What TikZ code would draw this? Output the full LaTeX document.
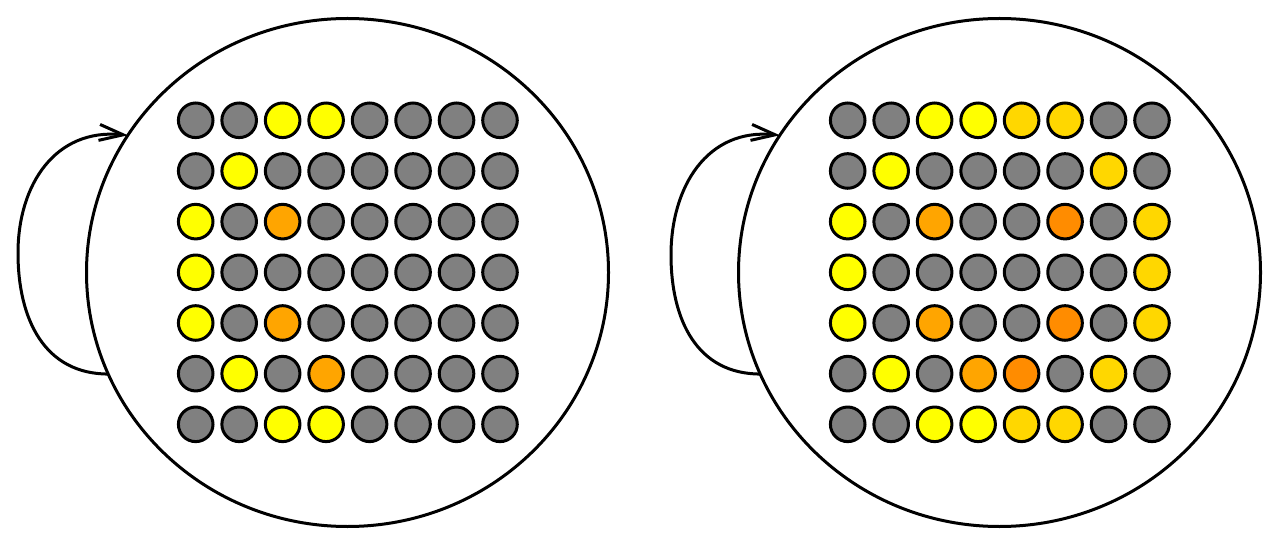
\documentclass[tikz,border=0pt]{standalone}
\usetikzlibrary{arrows.meta,shapes.geometric}
\definecolor{cG}{HTML}{808080}
\definecolor{cY}{HTML}{FFFF00}
\definecolor{cO}{HTML}{FFA500}
\definecolor{cD}{HTML}{FFD700}
\definecolor{cR}{HTML}{FF8C00}
\begin{document}
\begin{tikzpicture}[x=1pt,y=-1pt,
  bigcirc/.style={draw=black,ellipse,line width=3pt,minimum width=522pt,minimum height=508pt,inner sep=0pt,outer sep=0pt},
  dot/.style={draw=black,circle,line width=3pt,minimum size=34.6pt,inner sep=0pt,outer sep=0pt},
  loopline/.style={draw=black,line width=3pt,-{Straight Barb[length=24pt,width=16pt,line width=3pt]}}]
\useasboundingbox (0,0) rectangle (1280,545);
\node[bigcirc] (L) at (347.5,272.5) {};
\node[bigcirc] (R) at (999.5,272.5) {};
% left grid
\foreach \row [count=\r from 0] in {
  {G,G,Y,Y,G,G,G,G},
  {G,Y,G,G,G,G,G,G},
  {Y,G,O,G,G,G,G,G},
  {Y,G,G,G,G,G,G,G},
  {Y,G,O,G,G,G,G,G},
  {G,Y,G,O,G,G,G,G},
  {G,G,Y,Y,G,G,G,G}}{
  \foreach \c [count=\k from 0] in \row {
    \node[dot,fill=c\c] (L-\r-\k) at ({195.7+43.47*\k},{120.3+50.67*\r}) {};
  }
}
% right grid
\foreach \row [count=\r from 0] in {
  {G,G,Y,Y,D,D,G,G},
  {G,Y,G,G,G,G,D,G},
  {Y,G,O,G,G,R,G,D},
  {Y,G,G,G,G,G,G,D},
  {Y,G,O,G,G,R,G,D},
  {G,Y,G,O,R,G,D,G},
  {G,G,Y,Y,D,D,G,G}}{
  \foreach \c [count=\k from 0] in \row {
    \node[dot,fill=c\c] (R-\r-\k) at ({847.7+43.47*\k},{120.3+50.67*\r}) {};
  }
}
% loops
\draw[loopline] (L.203) .. controls (45,374) and (18,320) .. (18,253)
  .. controls (18,185) and (55,128) .. (L.148);
\draw[loopline] (R.203) .. controls (697,374) and (671,320) .. (671,255)
  .. controls (671,187) and (707,128) .. (R.148);
\end{tikzpicture}
\end{document}
